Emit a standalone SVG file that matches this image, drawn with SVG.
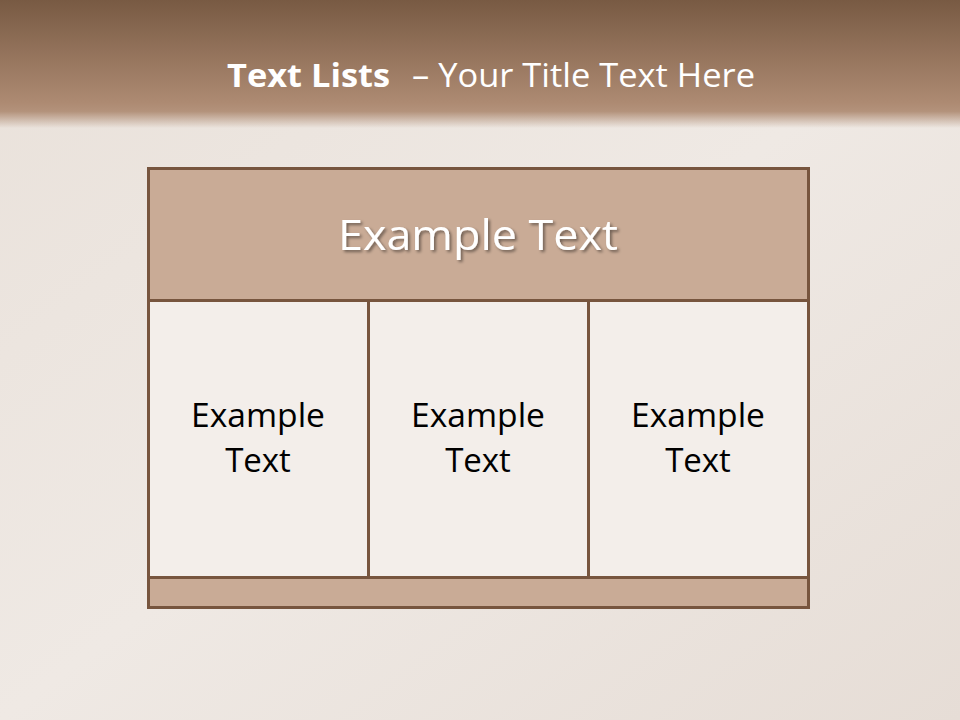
<svg xmlns="http://www.w3.org/2000/svg" width="960" height="720" viewBox="0 0 960 720">
<defs>
<linearGradient id="bg" x1="0" y1="0" x2="1" y2="1">
<stop offset="0" stop-color="#e9e1da"/>
<stop offset="0.5" stop-color="#efe9e4"/>
<stop offset="1" stop-color="#e6ddd6"/>
</linearGradient>
<linearGradient id="band" x1="0" y1="0" x2="0" y2="1">
<stop offset="0" stop-color="#785a43"/>
<stop offset="0.8" stop-color="#ad8a72"/>
<stop offset="0.87" stop-color="#b3927b"/>
<stop offset="1" stop-color="#b3927b" stop-opacity="0"/>
</linearGradient>
<filter id="sh" x="-10%" y="-20%" width="120%" height="150%">
<feDropShadow dx="2" dy="2" stdDeviation="1.5" flood-color="#000" flood-opacity="0.45"/>
</filter>
<style>
.box{stroke:#77553e;stroke-width:3}
.head{fill:#c9ab96}
.cell{fill:#f3eeea}
.ct{font-family:"Open Sans","Liberation Sans",sans-serif;font-size:33px;fill:#000;text-anchor:middle}
.tt{font-family:"Open Sans","Liberation Sans",sans-serif;font-size:33px;fill:#ffffff}
</style>
</defs>
<rect width="960" height="720" fill="url(#bg)"/>
<rect width="960" height="128" fill="url(#band)"/>
<text class="tt" x="227" y="87" font-weight="bold" textLength="163" lengthAdjust="spacingAndGlyphs">Text Lists</text>
<text class="tt" x="412" y="87" textLength="343" lengthAdjust="spacingAndGlyphs">– Your Title Text Here</text>
<g id="header">
<rect class="box head" x="148.5" y="168.5" width="660" height="132"/>
<text x="478" y="250" text-anchor="middle" font-family="Open Sans,Liberation Sans,sans-serif" font-size="42" fill="#ffffff" filter="url(#sh)" textLength="280" lengthAdjust="spacingAndGlyphs">Example Text</text>
</g>
<g id="cell1">
<rect class="box cell" x="148.5" y="300.5" width="220" height="277"/>
<text class="ct" x="258" y="427" textLength="134" lengthAdjust="spacingAndGlyphs">Example</text>
<text class="ct" x="258" y="472">Text</text>
</g>
<g id="cell2">
<rect class="box cell" x="368.5" y="300.5" width="220" height="277"/>
<text class="ct" x="478" y="427" textLength="134" lengthAdjust="spacingAndGlyphs">Example</text>
<text class="ct" x="478" y="472">Text</text>
</g>
<g id="cell3">
<rect class="box cell" x="588.5" y="300.5" width="220" height="277"/>
<text class="ct" x="698" y="427" textLength="134" lengthAdjust="spacingAndGlyphs">Example</text>
<text class="ct" x="698" y="472">Text</text>
</g>
<g id="footer">
<rect class="box head" x="148.5" y="577.5" width="660" height="30"/>
</g>
<g id="connectors"/>
</svg>
